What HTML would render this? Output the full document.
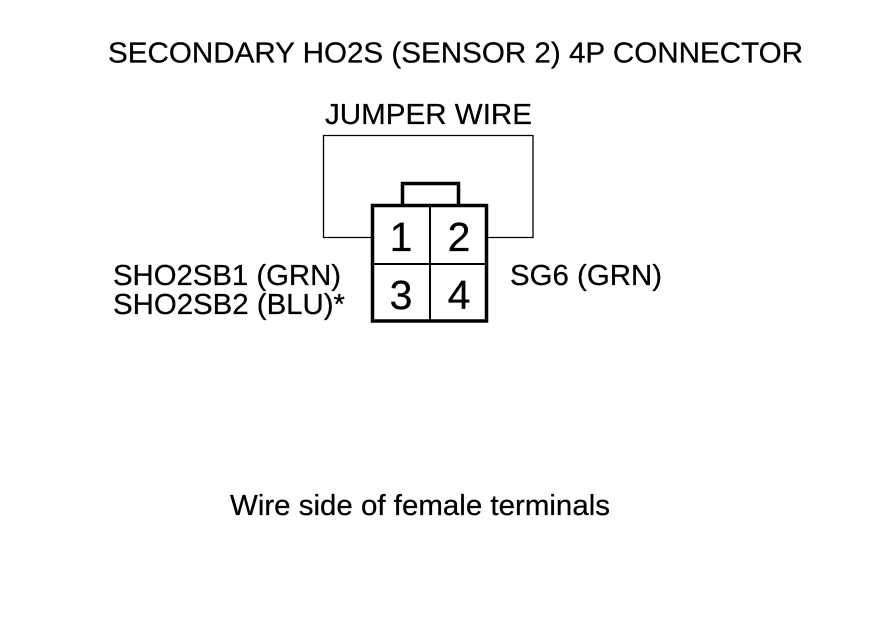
<!DOCTYPE html>
<html>
<head>
<meta charset="utf-8">
<style>
html,body{margin:0;padding:0;background:#fff;width:880px;height:630px;overflow:hidden}
svg{display:block}
text{font-family:"Liberation Sans",sans-serif;fill:#000;stroke:#000;stroke-width:.25}
</style>
</head>
<body>
<svg width="880" height="630" viewBox="0 0 880 630" xmlns="http://www.w3.org/2000/svg">
<rect width="880" height="630" fill="#fff"/>
<text x="108" y="62.500" font-size="29" textLength="695" lengthAdjust="spacingAndGlyphs">SECONDARY HO2S (SENSOR 2) 4P CONNECTOR</text>
<text x="325" y="124" font-size="29" textLength="207" lengthAdjust="spacingAndGlyphs">JUMPER WIRE</text>
<text x="113" y="285" font-size="29" textLength="228" lengthAdjust="spacingAndGlyphs">SHO2SB1 (GRN)</text>
<text x="113" y="314" font-size="29" textLength="232" lengthAdjust="spacingAndGlyphs">SHO2SB2 (BLU)*</text>
<text x="510" y="285" font-size="29" textLength="152" lengthAdjust="spacingAndGlyphs">SG6 (GRN)</text>
<text x="230" y="515" font-size="29" textLength="380" lengthAdjust="spacingAndGlyphs">Wire side of female terminals</text>
<g fill="none" stroke="#000">
<path d="M372 237.500H323.500V135.500H533V237.500H487" stroke-width="1.300"/>
<path d="M402.500 206V183.500H458.500V206" stroke-width="3.500"/>
<rect x="372.500" y="205.500" width="114" height="115.500" stroke-width="3.500"/>
<path d="M430 206V321M373 264H486" stroke-width="2"/>
</g>
<text x="401" y="251" font-size="41" text-anchor="middle">1</text>
<text x="459" y="251" font-size="41" text-anchor="middle">2</text>
<text x="401" y="309" font-size="41" text-anchor="middle">3</text>
<text x="459" y="309" font-size="41" text-anchor="middle">4</text>
</svg>
</body>
</html>
